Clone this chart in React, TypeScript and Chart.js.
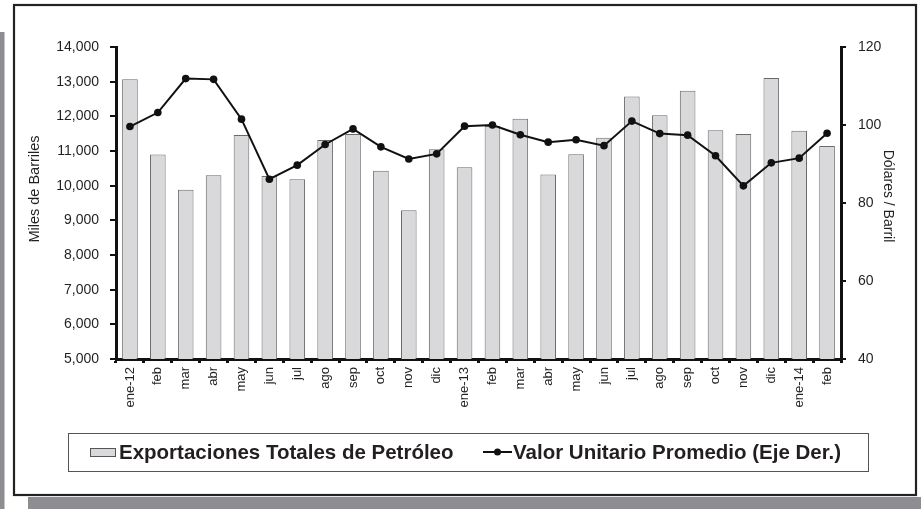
import React, { useEffect, useRef } from 'react';
import { Chart, registerables } from 'chart.js';

Chart.register(...registerables);

const categories = ['ene-12', 'feb', 'mar', 'abr', 'may', 'jun', 'jul', 'ago', 'sep', 'oct', 'nov', 'dic', 'ene-13', 'feb', 'mar', 'abr', 'may', 'jun', 'jul', 'ago', 'sep', 'oct', 'nov', 'dic', 'ene-14', 'feb'];

const exportaciones = [13070, 10900, 9880, 10300, 11460, 10280, 10185, 11320, 11490, 10430, 9290, 11050, 10530, 11720, 11930, 10325, 10905, 11385, 12570, 12030, 12740, 11600, 11490, 13105, 11585, 11145];

const valorUnitario = [99.6, 103.2, 111.9, 111.7, 101.5, 86.1, 89.7, 95.0, 99.0, 94.4, 91.3, 92.6, 99.7, 100.0, 97.5, 95.6, 96.2, 94.7, 101.0, 97.8, 97.4, 92.1, 84.4, 90.3, 91.5, 97.9];

const leftMin = 5000;
const leftMax = 14000;
const leftStep = 1000;
const rightMin = 40;
const rightMax = 120;
const rightStep = 20;

const barLabel = 'Exportaciones Totales de Petróleo';
const lineLabel = 'Valor Unitario Promedio (Eje Der.)';
const leftTitle = 'Miles de Barriles';
const rightTitle = 'Dólares / Barril';

const FONT = '"Liberation Sans", Arial, Helvetica, sans-serif';
const TEXT = '#231f20';
const BAR_FILL = '#d9d9db';
const BAR_BORDER = '#6a6a6a';

export default function App() {
  const ref = useRef<HTMLCanvasElement>(null);

  useEffect(() => {
    document.body.style.margin = '0';
    const canvas = ref.current;
    if (!canvas) return;

    const framePlugin = {
      id: 'frame',
      beforeDraw(chart: any) {
        const ctx = chart.ctx;
        ctx.save();
        ctx.fillStyle = '#ffffff';
        ctx.fillRect(0, 0, chart.width, chart.height);
        ctx.fillStyle = '#8e8e92';
        ctx.fillRect(0, 32, 4.5, chart.height - 32);
        ctx.fillRect(28, 497, chart.width - 28, 12);
        ctx.strokeStyle = '#222222';
        ctx.lineWidth = 2.2;
        ctx.strokeRect(14, 5, 902, 490);
        ctx.restore();
      },
      afterDraw(chart: any) {
        const ctx = chart.ctx;
        ctx.save();
        // axis titles
        ctx.fillStyle = TEXT;
        ctx.textAlign = 'center';
        ctx.textBaseline = 'middle';
        ctx.font = `14.5px ${FONT}`;
        ctx.save();
        ctx.translate(35, 189);
        ctx.rotate(-Math.PI / 2);
        ctx.fillText(leftTitle, 0, 0);
        ctx.restore();
        ctx.font = `14px ${FONT}`;
        ctx.save();
        ctx.translate(888, 196);
        ctx.rotate(Math.PI / 2);
        ctx.fillText(rightTitle, 0, 0);
        ctx.restore();

        // legend box
        ctx.strokeStyle = '#555555';
        ctx.lineWidth = 1;
        ctx.strokeRect(68.5, 433.5, 800, 38);
        const cy = 452;
        // bar swatch
        ctx.fillStyle = BAR_FILL;
        ctx.fillRect(90, 448, 25, 8);
        ctx.strokeStyle = '#555555';
        ctx.strokeRect(90.5, 448.5, 25, 8);
        ctx.font = `bold 20.5px ${FONT}`;
        ctx.fillStyle = TEXT;
        ctx.textBaseline = 'middle';
        ctx.textAlign = 'left';
        ctx.fillText(barLabel, 119, cy + 1);
        // line swatch
        ctx.strokeStyle = '#111111';
        ctx.lineWidth = 2;
        ctx.beginPath();
        ctx.moveTo(483, cy);
        ctx.lineTo(512, cy);
        ctx.stroke();
        ctx.fillStyle = '#111111';
        ctx.beginPath();
        ctx.arc(497.5, cy, 3.5, 0, Math.PI * 2);
        ctx.fill();
        ctx.fillStyle = TEXT;
        ctx.fillText(lineLabel, 513, cy + 1);
        ctx.restore();
      },
    };

    const chart = new Chart(canvas, {
      data: {
        labels: categories,
        datasets: [
          {
            type: 'line',
            label: lineLabel,
            data: valorUnitario,
            yAxisID: 'y1',
            borderColor: '#111111',
            backgroundColor: '#111111',
            borderWidth: 2,
            pointRadius: 3.8,
            pointBackgroundColor: '#111111',
            pointBorderWidth: 0,
            tension: 0,
            order: 0,
          },
          {
            type: 'bar',
            label: barLabel,
            data: exportaciones,
            yAxisID: 'y',
            backgroundColor: BAR_FILL,
            borderColor: BAR_BORDER,
            borderWidth: 1,
            barPercentage: 0.56,
            categoryPercentage: 1,
            order: 1,
          },
        ],
      } as any,
      options: {
        responsive: false,
        animation: false,
        devicePixelRatio: 1,
        layout: { padding: { top: 47, left: 20, right: 20, bottom: 0 } },
        plugins: {
          legend: { display: false },
          tooltip: { enabled: false },
        },
        scales: {
          x: {
            type: 'category',
            offset: true,
            afterFit: (s: any) => { s.height = 150; },
            grid: {
              display: true,
              drawOnChartArea: false,
              drawTicks: true,
              tickLength: 4,
              offset: true,
              color: '#111111',
              lineWidth: 3,
            },
            border: { display: true, color: '#111111', width: 3 },
            ticks: {
              autoSkip: false,
              maxRotation: 90,
              minRotation: 90,
              padding: 4,
              color: TEXT,
              font: { family: FONT, size: 13 },
            },
          },
          y: {
            type: 'linear',
            position: 'left',
            min: leftMin,
            max: leftMax,
            afterFit: (s: any) => { s.width = 96; },
            grid: {
              display: true,
              drawOnChartArea: false,
              drawTicks: true,
              tickLength: 6,
              color: '#111111',
              lineWidth: 2,
            },
            border: { display: true, color: '#111111', width: 3 },
            ticks: {
              stepSize: leftStep,
              padding: 11,
              color: TEXT,
              font: { family: FONT, size: 14 },
              callback: (v: any) => Number(v).toLocaleString('en-US'),
            },
          },
          y1: {
            type: 'linear',
            position: 'right',
            min: rightMin,
            max: rightMax,
            afterFit: (s: any) => { s.width = 60; },
            grid: {
              display: true,
              drawOnChartArea: false,
              drawTicks: true,
              tickLength: 5,
              color: '#111111',
              lineWidth: 2,
            },
            border: { display: true, color: '#111111', width: 3 },
            ticks: {
              stepSize: rightStep,
              padding: 12,
              color: TEXT,
              font: { family: FONT, size: 14 },
            },
          },
        },
      } as any,
      plugins: [framePlugin],
    });

    return () => chart.destroy();
  }, []);

  return (
    <div style={{ width: 921, height: 509, position: 'relative' }}>
      <canvas ref={ref} width={921} height={509} style={{ display: 'block' }} />
    </div>
  );
}
